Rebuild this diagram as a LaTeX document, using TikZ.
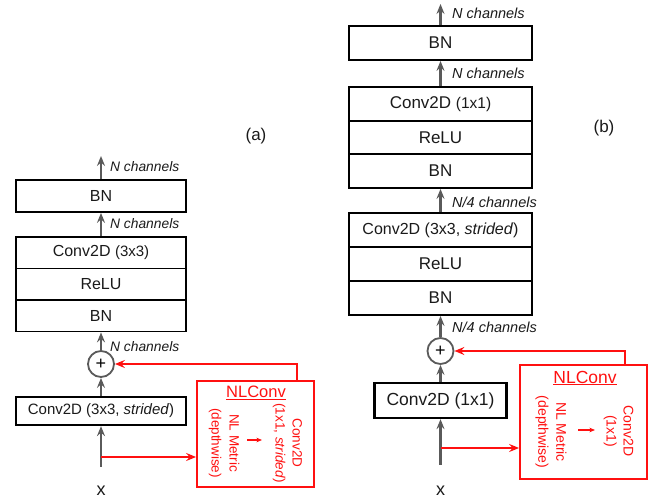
\documentclass[tikz,border=0pt]{standalone}
\usepackage{fontspec}
\setmainfont{Liberation Sans}
\usetikzlibrary{arrows.meta}
\definecolor{arrgray}{HTML}{5A5A5A}
\definecolor{nlred}{HTML}{FF1010}
\definecolor{txt}{HTML}{1A1A1A}
\begin{document}
\begin{tikzpicture}[x=1pt,y=-1pt,
  blka/.style={draw=black, line width=1.8pt, inner sep=0pt, text=txt,
    minimum width=170pt, font=\fontsize{16}{18}\selectfont},
  blkb/.style={draw=black, line width=1.8pt, inner sep=0pt, text=txt,
    minimum width=183pt, font=\fontsize{17}{19}\selectfont},
  addnode/.style={circle, draw=arrgray, line width=1.8pt, minimum size=26pt,
    inner sep=0pt, text=black, font=\fontsize{18}{18}\selectfont},
  garr/.style={draw=arrgray, line width=2.2pt,
    -{Stealth[length=10pt,width=8pt,inset=3.5pt]}},
  redarr/.style={draw=nlred, line width=1.8pt,
    -{Stealth[length=10pt,width=8pt,inset=3.5pt]}},
  smallred/.style={draw=nlred, line width=1.3pt,
    -{Stealth[length=5.5pt,width=4.5pt,inset=1.5pt]}},
  nlbox/.style={draw=nlred, line width=1.8pt, inner sep=0pt},
  chlab/.style={anchor=west, inner sep=0pt, text=txt, font=\itshape},
  rottxt/.style={rotate=-90, align=center, text=nlred, inner sep=0pt},
  xlab/.style={inner sep=0pt, text=txt, font=\fontsize{18}{18}\selectfont},
  sublab/.style={inner sep=0pt, text=txt, font=\fontsize{17}{17}\selectfont}
]
\useasboundingbox (0,0) rectangle (659,502);

% ---------------- (a) ----------------
\node[blka, minimum height=32pt] (a_bn2) at (101,196) {BN};
\node[blka, minimum height=31.5pt] (a_conv) at (101,252.75) {Conv2D {\fontsize{15}{16}\selectfont (3x3)}};
\node[blka, minimum height=31.5pt] (a_relu) at (101,284.25) {ReLU};
\node[blka, minimum height=31.5pt] (a_bn1) at (101,315.75) {BN};
\node[addnode] (a_add) at (101,364) {+};
\node[blka, line width=2.3pt, minimum height=28pt, font=\fontsize{15}{17}\selectfont] (a_convs) at (101,411) {Conv2D (3x3, \textit{strided})};
\node[xlab] (a_x) at (101,491) {x};
\coordinate (a_in) at (101,467);
\coordinate (a_br) at (101,457);
\coordinate (a_out) at (101,156);

\node[chlab, font=\fontsize{13.8}{15}\selectfont\itshape] (a_l1) at (110,167) {N channels};
\node[chlab, font=\fontsize{13.8}{15}\selectfont\itshape] (a_l2) at (110,224) {N channels};
\node[chlab, font=\fontsize{13.8}{15}\selectfont\itshape] (a_l3) at (110,347) {N channels};
\node[sublab] (a_tag) at (256,136) {(a)};

\draw[garr] (a_bn2.north) -- (a_out);
\draw[garr] (a_conv.north) -- (a_bn2.south);
\draw[garr] (a_add.north) -- (a_bn1.south);
\draw[garr] (a_convs.north) -- (a_add.south);
\draw[garr] (a_in) -- (a_convs.south);

\node[nlbox, minimum width=117pt, minimum height=106pt] (a_nl) at (255.5,434) {};
\node[inner sep=0pt, text=nlred, font=\fontsize{16.5}{18}\selectfont] (a_nlt) at (256,393) {\underline{NLConv}};
\node[rottxt, font=\fontsize{13.5}{18}\selectfont] (a_met) at (224,443) {NL Metric\\(depthwise)};
\node[rottxt, font=\fontsize{13.5}{17}\selectfont] (a_c11) at (287.5,443) {Conv2D\\(1x1, \textit{strided})};
\coordinate (a_s1) at (247,440);
\coordinate (a_s2) at (262,440);
\draw[smallred] (a_s1) -- (a_s2);
\draw[redarr] (a_br) -- (a_nl.west |- a_br);
\draw[redarr] ([xshift=41.5pt]a_nl.north) |- (a_add.east);

% ---------------- (b) ----------------
\node[blkb, minimum height=34pt] (b_bn3) at (440.5,43) {BN};
\node[blkb, minimum height=33.7pt] (b_conv1) at (440.5,103.85) {Conv2D {\fontsize{15.5}{17}\selectfont (1x1)}};
\node[blkb, minimum height=33.7pt] (b_relu1) at (440.5,137.5) {ReLU};
\node[blkb, minimum height=33.7pt] (b_bn2) at (440.5,171.15) {BN};
\node[blkb, minimum height=34pt, font=\fontsize{16}{18}\selectfont] (b_conv3) at (440.5,230) {Conv2D (3x3, \textit{strided})};
\node[blkb, minimum height=34pt] (b_relu2) at (440.5,264) {ReLU};
\node[blkb, minimum height=34pt] (b_bn1) at (440.5,298) {BN};
\node[addnode] (b_add) at (440.5,351) {+};
\node[blkb, line width=2.3pt, minimum width=132pt, minimum height=35pt, font=\fontsize{17.5}{19}\selectfont] (b_conv0) at (440.5,400.5) {Conv2D (1x1)};
\node[xlab] (b_x) at (440.5,491) {x};
\coordinate (b_in) at (440.5,465);
\coordinate (b_br) at (440.5,448);
\coordinate (b_out) at (440.5,4);

\node[chlab, font=\fontsize{14.5}{16}\selectfont\itshape] (b_l1) at (452,13) {N channels};
\node[chlab, font=\fontsize{14.5}{16}\selectfont\itshape] (b_l2) at (452,73) {N channels};
\node[chlab, font=\fontsize{14.5}{16}\selectfont\itshape] (b_l3) at (452,202) {N/4 channels};
\node[chlab, font=\fontsize{14.5}{16}\selectfont\itshape] (b_l4) at (452,327) {N/4 channels};
\node[sublab] (b_tag) at (604,128) {(b)};

\draw[garr] (b_bn3.north) -- (b_out);
\draw[garr] (b_conv1.north) -- (b_bn3.south);
\draw[garr] (b_conv3.north) -- (b_bn2.south);
\draw[garr] (b_add.north) -- (b_bn1.south);
\draw[garr] (b_conv0.north) -- (b_add.south);
\draw[garr] (b_in) -- (b_conv0.south);

\node[nlbox, minimum width=127pt, minimum height=114pt] (b_nl) at (583.5,422) {};
\node[inner sep=0pt, text=nlred, font=\fontsize{17.5}{19}\selectfont] (b_nlt) at (585,378) {\underline{NLConv}};
\node[rottxt, font=\fontsize{14}{18}\selectfont] (b_met) at (551,432) {NL Metric\\(depthwise)};
\node[rottxt, font=\fontsize{14}{17}\selectfont] (b_c11) at (618.5,431) {Conv2D\\(1x1)};
\coordinate (b_s1) at (578,430);
\coordinate (b_s2) at (595,430);
\draw[smallred] (b_s1) -- (b_s2);
\draw[redarr] (b_br) -- (b_nl.west |- b_br);
\draw[redarr] ([xshift=41.5pt]b_nl.north) |- (b_add.east);
\end{tikzpicture}
\end{document}
